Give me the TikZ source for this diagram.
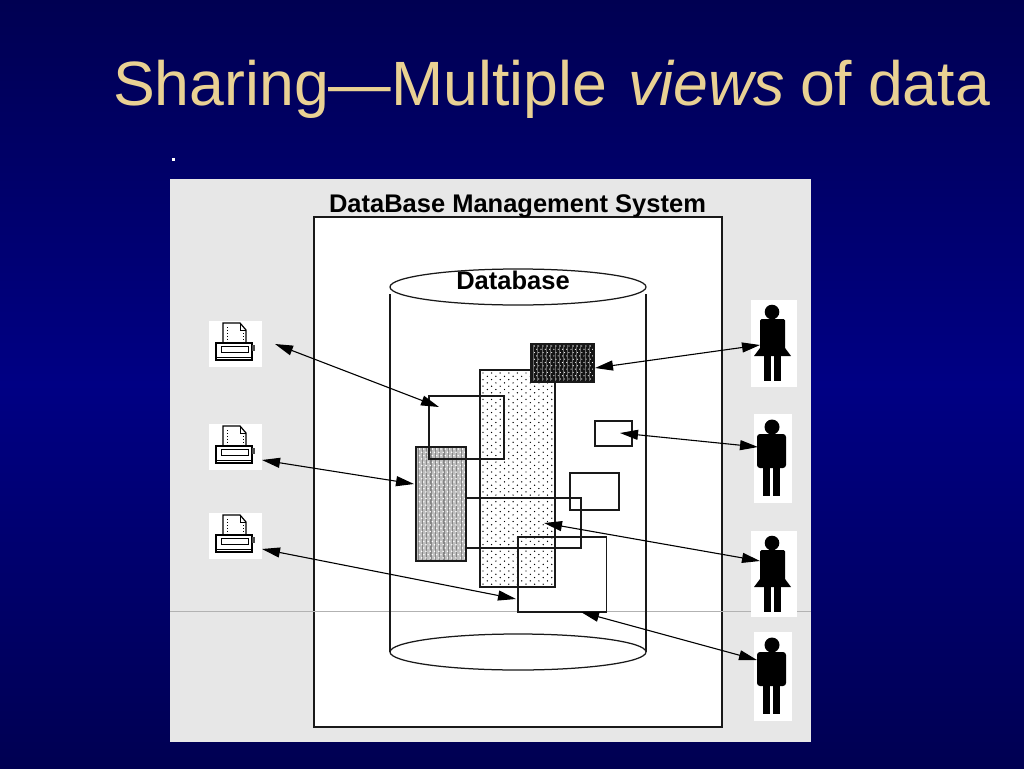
\documentclass[tikz,border=0pt]{standalone}
\usepackage{fontspec}
\setmainfont{Liberation Sans}
\usetikzlibrary{arrows.meta}
\definecolor{navyedge}{HTML}{000052}
\definecolor{navymid}{HTML}{000084}
\definecolor{titlecol}{HTML}{E9D193}
\definecolor{panelgray}{HTML}{E7E7E7}
\tikzset{
  x=1pt,y=-1pt,
  sheet/.style={draw=black!90,line width=1.25pt,fill=white,anchor=north west,inner sep=0pt,outer sep=0pt},
  openbox/.style={draw=black!90,line width=1.25pt,anchor=north west,inner sep=0pt,outer sep=0pt},
  iconbox/.style={fill=white,anchor=north west,inner sep=0pt,outer sep=0pt},
  link/.style={line width=1.1pt,{Triangle[length=18pt,width=10pt]}-{Triangle[length=18pt,width=10pt]}},
  boldlabel/.style={font=\bfseries\fontsize{25.5}{25.5}\selectfont,text=black,anchor=base,inner sep=0pt},
  pics/printer/.style={code={
    \draw[line width=1.2pt,fill=white] (14,2) -- (31,2) -- (37,9) -- (37,24) -- (14,24) -- cycle;
    \draw[line width=.8pt] (31,2) -- (31,9) -- (37,9);
    \draw[line width=.9pt,dotted] (18,6) -- (18,23);
    \draw[line width=.9pt,dotted] (34,12) -- (34,23);
    \draw[line width=1.3pt,fill=white] (7,22) rectangle (43,39);
    \draw[line width=1pt] (12,25) rectangle (39,31);
    \draw[line width=1pt] (7,36) -- (43,36);
    \fill[black!70] (43,24) rectangle (46,30);
  }},
  pics/womanicon/.style={code={
    \fill (21,12) circle (7.3);
    \fill[rounded corners=1.5pt] (9,19) rectangle (34,52);
    \fill (9,48) -- (34,48) -- (40,56) -- (3,56) -- cycle;
    \fill (13,55) rectangle (20,81);
    \fill (23,55) rectangle (30,81);
  }},
  pics/manicon/.style={code={
    \fill (18,13) circle (7.5);
    \fill[rounded corners=3pt] (3,20) rectangle (32,54);
    \fill (9,50) rectangle (16,82);
    \fill (19,50) rectangle (26,82);
  }},
}
\begin{document}
\begin{tikzpicture}
\useasboundingbox (0,0) rectangle (1024,768);
\fill[top color=navyedge,bottom color=navymid] (0,0) rectangle (1024,384.5);
\fill[top color=navymid,bottom color=navyedge] (0,384) rectangle (1024,768);

\node[font=\fontsize{62.6}{62.6}\selectfont,text=titlecol,anchor=base west,inner sep=0pt] (title) at (113,105) {Sharing—Multiple\hspace{4pt} \textit{views}\hspace{-2.5pt} of\hspace{-1.5pt} data};
\node[fill=white,minimum size=3pt,inner sep=0pt] (mark) at (173,159) {};

\node[fill=panelgray,anchor=north west,minimum width=641pt,minimum height=563pt,inner sep=0pt] (panel) at (170,179) {};
\node[sheet,minimum width=408pt,minimum height=510pt] (dbms) at (314,217) {};
\node[boldlabel] (dbmslabel) at (517.5,212) {DataBase Management System};
\coordinate (ruleL) at (170,611);
\coordinate (ruleR) at (811,611);
\draw[line width=.6pt,black!30] (ruleL) -- (ruleR);

% cylinder
\coordinate (cylTL) at (390,294);
\coordinate (cylTR) at (646,294);
\coordinate (cylBL) at (390,652);
\coordinate (cylBR) at (646,652);
\draw[line width=1.25pt,black!90] (cylTL) -- (cylBL) (cylTR) -- (cylBR);
\draw[line width=1.25pt,black!90,fill=white] (518,287) ellipse [x radius=128,y radius=18];
\draw[line width=1.25pt,black!90,fill=white] (518,652) ellipse [x radius=128,y radius=18];
\node[boldlabel] (dblabel) at (513,289) {Database};

% dotted large block
\node[sheet,minimum width=75pt,minimum height=217pt] (big) at (480,370) {};
\begin{scope}
\clip (481,371) rectangle (554,586);
\foreach \r in {0,...,65}{\pgfmathtruncatemacro{\o}{mod(\r,2)}
  \foreach \c in {0,...,9}{
    \fill (483+\c*8.6+\o*4.3,373+\r*3.3) circle (.72);
  }}
\end{scope}
\draw[line width=1.25pt,black!90] (big.north west) rectangle (big.south east);
% medium-screened block
\node[sheet,minimum width=50pt,minimum height=114pt] (med) at (416,447) {};
\begin{scope}
\clip (417,448) rectangle (465,560);
\fill[black!26] (416,447) rectangle (466,561);
\foreach \c in {0,...,11}{\fill[black!48] (417.5+\c*4.3,447) rectangle ++(1.2,114);}
\foreach \r in {0,...,34}{\pgfmathtruncatemacro{\o}{mod(\r,2)}
  \foreach \c in {0,...,11}{
    \fill[white] (419.5+\c*4.3+\o*2.15,449+\r*3.3) circle (.85);
  }}
\end{scope}
\draw[line width=1.25pt,black!90] (med.north west) rectangle (med.south east);
% dark block
\node[sheet,minimum width=63pt,minimum height=38pt] (dark) at (531,344) {};
\begin{scope}
\clip (532,345) rectangle (593,381);
\fill[black!92] (531,344) rectangle (594,382);
\foreach \c in {0,...,14}{\fill[black!60] (533+\c*4.3,344) rectangle ++(1,38);}
\foreach \r in {0,...,11}{\pgfmathtruncatemacro{\o}{mod(\r,2)}
  \foreach \c in {0,...,14}{
    \fill[white] (534.5+\c*4.3+\o*2.15,346+\r*3.3) circle (.6);
  }}
\end{scope}
\draw[line width=1.25pt,black!90] (dark.north west) rectangle (dark.south east);

% open boxes
\node[openbox,minimum width=75pt,minimum height=63pt] (v1) at (429,396) {};
\node[openbox,minimum width=37pt,minimum height=25pt] (v2) at (595,421) {};
\node[openbox,minimum width=49pt,minimum height=37pt] (v3) at (570,473) {};
\coordinate (wTL) at (466,498);
\coordinate (wTR) at (581,498);
\coordinate (wBR) at (581,548);
\coordinate (wBL) at (466,548);
\draw[line width=1.25pt,black!90] (wTL) -- (wTR) -- (wBR) -- (wBL);
\node[openbox,minimum width=88.5pt,minimum height=75pt] (v4) at (518,537) {};

% printers
\node[iconbox,minimum width=53pt,minimum height=46pt] (pr1) at (209,321) {};
\node[iconbox,minimum width=53pt,minimum height=46pt] (pr2) at (209,424) {};
\node[iconbox,minimum width=53pt,minimum height=46pt] (pr3) at (209,513) {};
\pic at (209,321) {printer};
\pic at (209,424) {printer};
\pic at (209,513) {printer};

% people
\node[iconbox,minimum width=46pt,minimum height=87pt] (u1) at (751,300) {};
\node[iconbox,minimum width=38pt,minimum height=89pt] (u2) at (754,414) {};
\node[iconbox,minimum width=46pt,minimum height=86pt] (u3) at (751,531) {};
\node[iconbox,minimum width=38pt,minimum height=89pt] (u4) at (754,632) {};
\pic at (751,300) {womanicon};
\pic at (754,414) {manicon};
\pic at (751,531) {womanicon};
\pic at (754,632) {manicon};

% connectors
\coordinate (a1s) at (275,344); \coordinate (a1e) at (439,407);
\coordinate (a2s) at (262,460); \coordinate (a2e) at (414,484);
\coordinate (a3s) at (262,549); \coordinate (a3e) at (516,599);
\coordinate (b1s) at (595,368); \coordinate (b1e) at (760,345);
\coordinate (b2s) at (620,433); \coordinate (b2e) at (758,447);
\coordinate (b3s) at (544,523); \coordinate (b3e) at (760,561);
\coordinate (b4s) at (581,612); \coordinate (b4e) at (757,660);
\draw[link] (a1s) -- (a1e);
\draw[link] (a2s) -- (a2e);
\draw[link] (a3s) -- (a3e);
\draw[link] (b1s) -- (b1e);
\draw[link] (b2s) -- (b2e);
\draw[link] (b3s) -- (b3e);
\draw[link] (b4s) -- (b4e);
\end{tikzpicture}
\end{document}
